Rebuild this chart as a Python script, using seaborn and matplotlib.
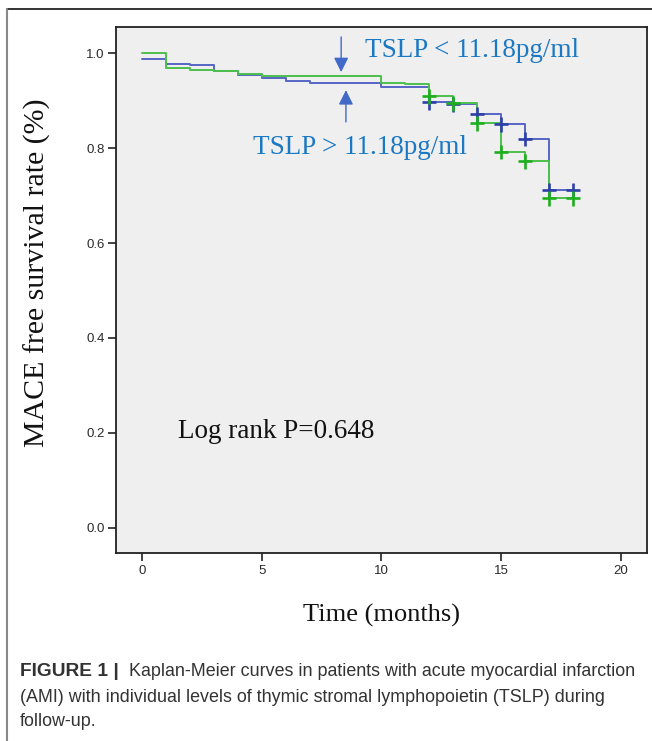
import matplotlib
matplotlib.use("Agg")
import matplotlib.pyplot as plt
import seaborn as sns
import pandas as pd
from matplotlib.lines import Line2D

# ---- data ----
times = [0, 1, 2, 3, 4, 5, 6, 7, 10, 11, 12, 13, 14, 15, 16, 17, 18]
surv_high = [0.987, 0.978, 0.974, 0.962, 0.954, 0.948, 0.942, 0.936, 0.929, 0.929,
             0.896, 0.892, 0.871, 0.850, 0.819, 0.712, 0.712]
surv_low = [1.000, 0.969, 0.964, 0.962, 0.957, 0.952, 0.952, 0.952, 0.938, 0.934,
            0.909, 0.894, 0.852, 0.792, 0.772, 0.694, 0.694]
censor_times = [12, 13, 14, 15, 16, 17, 18]
censor_high = [0.896, 0.892, 0.871, 0.850, 0.819, 0.712, 0.712]
censor_low = [0.909, 0.894, 0.852, 0.792, 0.772, 0.694, 0.694]
groups = ["TSLP > 11.18pg/ml", "TSLP < 11.18pg/ml"]
x_ticks = [0, 5, 10, 15, 20]
y_ticks = [0.0, 0.2, 0.4, 0.6, 0.8, 1.0]

df = pd.DataFrame({
    "time": times + times,
    "survival": surv_high + surv_low,
    "group": [groups[0]] * len(times) + [groups[1]] * len(times),
})
cdf = pd.DataFrame({
    "time": censor_times + censor_times,
    "survival": censor_high + censor_low,
    "group": [groups[0]] * len(censor_times) + [groups[1]] * len(censor_times),
})

sns.set_style("white")
plt.rcParams["font.family"] = ["Liberation Sans", "DejaVu Sans"]

W, H = 652, 741
fig = plt.figure(figsize=(W / 100, H / 100), dpi=100)
fig.patch.set_facecolor("white")

def fx(px):
    return px / W

def fy(py):
    return 1 - py / H

ax = fig.add_axes([fx(115.7), fy(553), fx(647) - fx(115.7), fy(27) - fy(553)])
ax.set_facecolor("#efefef")

line_pal = {groups[0]: "#5566c4", groups[1]: "#4cc04c"}
mark_pal = {groups[0]: "#2e3fa8", groups[1]: "#1fae1f"}

sns.lineplot(data=df, x="time", y="survival", hue="group", palette=line_pal,
             drawstyle="steps-post", estimator=None, sort=False, legend=False,
             linewidth=1.4, ax=ax, hue_order=groups)
sns.scatterplot(data=cdf, x="time", y="survival", hue="group", palette=mark_pal,
                marker="+", s=110, linewidth=1.9, legend=False, ax=ax,
                hue_order=groups, zorder=4)

ax.set_xlim(-1.1, 21.1)
ax.set_ylim(-0.053, 1.055)
ax.set_xticks(x_ticks)
ax.set_xticklabels([str(v) for v in x_ticks])
ax.set_yticks(y_ticks)
ax.set_yticklabels([f"{v:.1f}" for v in y_ticks])
ax.tick_params(axis="both", direction="out", length=6, width=1.2, color="#222222",
               labelsize=9.5, labelcolor="#2a2a2a", bottom=True, left=True)
ax.tick_params(axis="x", pad=3)
ax.tick_params(axis="y", pad=2)
for sp in ax.spines.values():
    sp.set_color("#222222")
    sp.set_linewidth(1.3)

ax.set_xlabel("")
ax.set_ylabel("")
serif = ["Liberation Serif", "DejaVu Serif"]
fig.text(fx(382), fy(615), "Time (months)", family=serif, fontsize=19,
         ha="center", va="center", color="#111111")
fig.text(fx(37), fy(273), "MACE free survival rate (%)", family=serif, fontsize=21.5,
         ha="center", va="center", rotation=90, color="#111111")

txt_blue = "#1b78c2"
ax.text(9.32, 1.006, groups[1], family=serif, fontsize=19.5, color=txt_blue,
        ha="left", va="center")
ax.text(4.64, 0.802, groups[0], family=serif, fontsize=19.5, color=txt_blue,
        ha="left", va="center")
ax.text(1.5, 0.202, "Log rank P=0.648", family=serif, fontsize=19.5,
        color="#111111", ha="left", va="center")

arrow_c = "#4169c8"
ax.annotate("", xy=(8.32, 0.960), xytext=(8.32, 1.034),
            arrowprops=dict(arrowstyle="-|>", color=arrow_c, lw=1.0,
                            mutation_scale=22, shrinkA=0, shrinkB=0))
ax.annotate("", xy=(8.52, 0.922), xytext=(8.52, 0.855),
            arrowprops=dict(arrowstyle="-|>", color=arrow_c, lw=1.0,
                            mutation_scale=22, shrinkA=0, shrinkB=0))

# figure frame lines
fig.add_artist(Line2D([fx(7), 1], [fy(9), fy(9)], color="#111111", lw=1.2))
fig.add_artist(Line2D([fx(7), fx(7)], [fy(9), 0], color="#888888", lw=1.5))

# caption
cap_c = "#333333"
cap_fs = 12.9
fig.text(fx(20), fy(672), "FIGURE 1 |", fontsize=13.8, fontweight="bold",
         color=cap_c, ha="left", va="center")
fig.text(fx(129), fy(672), "Kaplan-Meier curves in patients with acute myocardial infarction",
         fontsize=cap_fs, color=cap_c, ha="left", va="center")
fig.text(fx(20), fy(697), "(AMI) with individual levels of thymic stromal lymphopoietin (TSLP) during",
         fontsize=cap_fs, color=cap_c, ha="left", va="center")
fig.text(fx(20), fy(721), "follow-up.", fontsize=cap_fs, color=cap_c, ha="left", va="center")

fig.savefig("out.png", dpi=100)
